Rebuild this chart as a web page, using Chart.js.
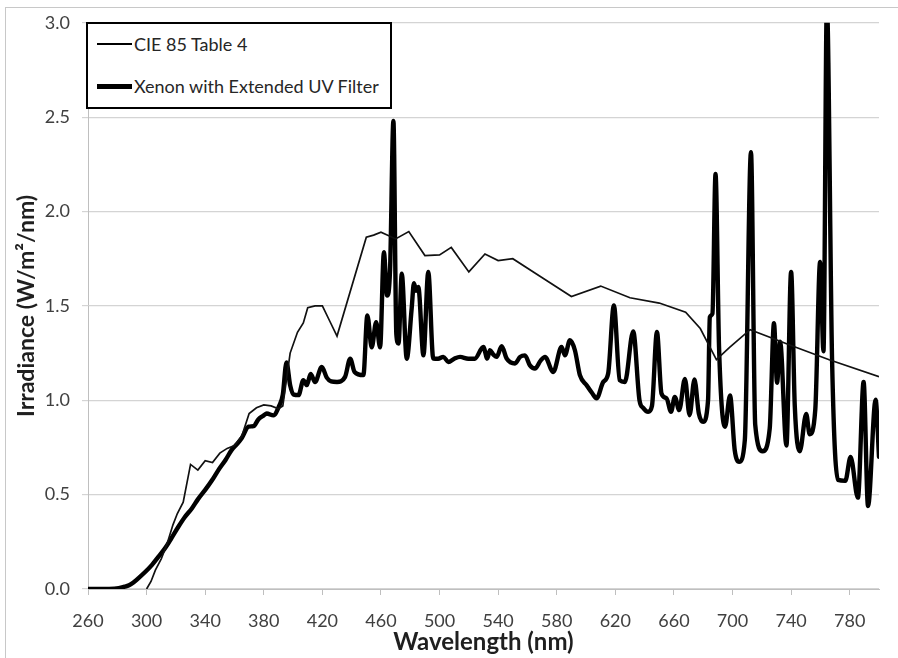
<!DOCTYPE html>
<html>
<head>
<meta charset="utf-8">
<script src="https://cdn.jsdelivr.net/npm/chart.js@4.4.1/dist/chart.umd.min.js"></script>
<style>
  body { margin: 0; background: #fff; }
  #wrap { position: relative; width: 898px; height: 658px; overflow: hidden; }
  #frame { position: absolute; left: 5px; top: 7px; width: 1000px; height: 1000px;
           border-left: 1px solid #c8c8c8; border-top: 1px solid #c8c8c8; }
  #legend { position: absolute; left: 86px; top: 22px; width: 302px; height: 83px;
            border: 2px solid #000; background: #fff;
            font-family: Lato, "Open Sans", sans-serif; font-size: 18px; color: #262626; }
  .item { position: absolute; left: 9px; height: 22px; display: flex; align-items: center; }
  .sample { width: 35px; background: #000; margin-right: 2px; }
</style>
</head>
<body>
<div id="wrap">
  <div id="frame"></div>
  <canvas id="chart" width="898" height="658"></canvas>
  <div id="legend">
    <div class="item" style="top: 9px;"><span class="sample" style="height: 2px;"></span><span id="lg0"></span></div>
    <div class="item" style="top: 51px;"><span class="sample" style="height: 5px;"></span><span id="lg1"></span></div>
  </div>
</div>
<script>
// Irradiance spectra: CIE 85 reference vs filtered xenon lamp

const seriesNames = ["CIE 85 Table 4", "Xenon with Extended UV Filter"];

// CIE 85 Table 4 (thin line)
const cieNm = [300, 303, 306, 310, 314, 318, 321, 325, 330, 335, 340, 345, 350, 355, 360, 365, 370, 375, 380,
  385, 390, 393, 398, 403, 407, 410, 415, 420, 425, 430, 450, 455, 460, 465, 470, 479, 490, 500, 508, 520,
  531, 540, 550, 568, 590, 610, 630, 650, 668, 678, 689, 698, 712, 725, 740, 766, 800];
const cieVal = [0.0, 0.04, 0.10, 0.16, 0.24, 0.34, 0.40, 0.46, 0.66, 0.63, 0.68, 0.67, 0.72, 0.745, 0.76, 0.81, 0.93, 0.96, 0.975,
  0.97, 0.955, 0.97, 1.25, 1.36, 1.41, 1.49, 1.50, 1.50, 1.42, 1.34, 1.864, 1.875, 1.89, 1.873, 1.855, 1.894, 1.767, 1.77, 1.81, 1.68,
  1.775, 1.74, 1.75, 1.66, 1.55, 1.605, 1.543, 1.515, 1.467, 1.38, 1.215, 1.28, 1.374, 1.335, 1.29, 1.215, 1.125];

// Xenon with Extended UV Filter (thick line)
const xenonNm = [260, 270, 278, 281, 285, 288, 291, 294.5, 299, 303.7, 308, 312.7, 317, 321.8, 326, 331, 335, 340, 345, 349,
  354, 358, 362, 365, 369.6, 373, 376.4, 380, 382, 386.6, 390.5, 393, 395.5, 398, 400.5, 403.7, 407, 409.4, 412, 415,
  419.6, 423, 426, 430, 435.5, 439, 442, 448, 450.7, 453.7, 456.7, 459.4, 462, 464.2, 466.2, 468.5, 470.5, 472, 474.2, 477.6,
  481, 482.5, 484, 485.5, 489, 492.3, 495.7, 499, 502.6, 506, 510, 514, 519.6, 524, 529.9, 532.6, 534.4, 537, 539, 542.4,
  545.8, 551.5, 555, 558.3, 561.7, 565.1, 569, 572, 577.6, 583.3, 585.6, 589, 592.4, 595.8, 600.4, 604, 607.2, 611.7, 615.1, 619,
  623, 626.5, 632.2, 636.5, 639, 642.4, 645, 648.4, 651.5, 655, 658, 660.6, 663.6, 667.5, 670.7, 674, 677, 679.9,
  683.3, 684.5, 686.3, 688.4, 690.8, 694.9, 698.3, 701.5, 704.5, 708.4, 712.6, 715.5, 720.6, 725.4, 728.3, 730.4, 732.5, 736.8,
  740, 742.5, 745.9, 750.3, 752.7, 756.5, 759.8, 762.1, 764.4, 768, 772, 777, 780.6, 785.6, 789.5, 792.5, 797.7, 800];
const xenonVal = [0, 0, 0.002, 0.005, 0.012, 0.02, 0.035, 0.058, 0.09, 0.128, 0.17, 0.217, 0.27, 0.331, 0.38, 0.428, 0.475, 0.525, 0.58, 0.63,
  0.685, 0.736, 0.77, 0.80, 0.86, 0.863, 0.90, 0.92, 0.93, 0.92, 0.97, 1.03, 1.20, 1.08, 1.03, 1.027, 1.106, 1.08, 1.14, 1.097,
  1.177, 1.12, 1.10, 1.097, 1.124, 1.22, 1.15, 1.133, 1.45, 1.28, 1.414, 1.28, 1.784, 1.555, 1.69, 2.48, 1.35, 1.30, 1.67, 1.22,
  1.49, 1.62, 1.58, 1.60, 1.238, 1.68, 1.221, 1.22, 1.23, 1.203, 1.22, 1.23, 1.22, 1.22, 1.282, 1.221, 1.265, 1.24, 1.23, 1.286,
  1.221, 1.195, 1.23, 1.238, 1.185, 1.168, 1.21, 1.23, 1.15, 1.282, 1.238, 1.318, 1.265, 1.133, 1.08, 1.04, 1.01, 1.097, 1.142, 1.503,
  1.106, 1.097, 1.365, 1.0, 0.96, 0.939, 0.97, 1.362, 1.036, 1.01, 0.939, 1.018, 0.948, 1.113, 0.921, 1.11, 0.93, 0.886,
  1.0, 1.44, 1.459, 2.199, 1.282, 0.86, 1.025, 0.736, 0.674, 0.789, 2.315, 0.87, 0.73, 0.85, 1.408, 1.093, 1.31, 0.76,
  1.68, 0.97, 0.73, 0.927, 0.82, 0.95, 1.733, 1.26, 3.1, 1.2, 0.578, 0.573, 0.70, 0.484, 1.097, 0.44, 1.003, 0.70];

// Axis ticks
const xTicks = [260, 300, 340, 380, 420, 460, 500, 540, 580, 620, 660, 700, 740, 780];
const yTicks = [0.0, 0.5, 1.0, 1.5, 2.0, 2.5, 3.0];

document.getElementById('lg0').textContent = seriesNames[0];
document.getElementById('lg1').textContent = seriesNames[1];

const toPoints = (xs, ys) => xs.map((x, i) => ({ x: x, y: ys[i] }));

const tickFont = { family: "Lato, 'Open Sans', sans-serif", size: 18 };

new Chart(document.getElementById('chart'), {
  type: 'line',
  data: {
    datasets: [
      {
        label: seriesNames[0],
        data: toPoints(cieNm, cieVal),
        borderColor: '#111',
        borderWidth: 1.7,
        pointRadius: 0,
        tension: 0,
      },
      {
        label: seriesNames[1],
        data: toPoints(xenonNm, xenonVal),
        borderColor: '#000',
        borderWidth: 4.4,
        pointRadius: 0,
        cubicInterpolationMode: 'monotone',
        borderJoinStyle: 'round',
        borderCapStyle: 'round',
      }
    ]
  },
  options: {
    responsive: false,
    animation: false,
    layout: { padding: { top: 22, right: 19, left: 0, bottom: 0 } },
    plugins: { legend: { display: false }, tooltip: { enabled: false } },
    scales: {
      x: {
        type: 'linear',
        min: 260,
        max: 800,
        afterBuildTicks: (scale) => { scale.ticks = xTicks.map(v => ({ value: v })); },
        afterFit: (scale) => { scale.height = 69; },
        ticks: {
          font: tickFont,
          color: '#404040',
          padding: 15,
          maxRotation: 0,
          autoSkip: false,
        },
        grid: { drawOnChartArea: false, drawTicks: true, tickLength: 6, color: '#bfbfbf' },
        border: { color: '#bfbfbf', width: 1 },
        title: { display: true, text: 'Wavelength (nm)', color: '#1f1f1f',
                 font: { family: "Lato, 'Open Sans', sans-serif", size: 24, weight: 'bold' },
                 padding: { top: 0, bottom: 1 } }
      },
      y: {
        min: 0,
        max: 3,
        afterBuildTicks: (scale) => { scale.ticks = yTicks.map(v => ({ value: v })); },
        afterFit: (scale) => { scale.width = 88; },
        ticks: {
          font: tickFont,
          color: '#404040',
          padding: 12,
          callback: (value) => Number(value).toFixed(1),
        },
        grid: { color: '#d4d4d4', lineWidth: 1.2, tickLength: 6 },
        border: { color: '#bfbfbf', width: 1 },
        title: { display: true, text: 'Irradiance (W/m\u00B2/nm)', color: '#1f1f1f',
                 font: { family: "Lato, 'Open Sans', sans-serif", size: 23, weight: 'bold' },
                 padding: { top: 13, bottom: 0 } }
      }
    }
  }
});
</script>
</body>
</html>
